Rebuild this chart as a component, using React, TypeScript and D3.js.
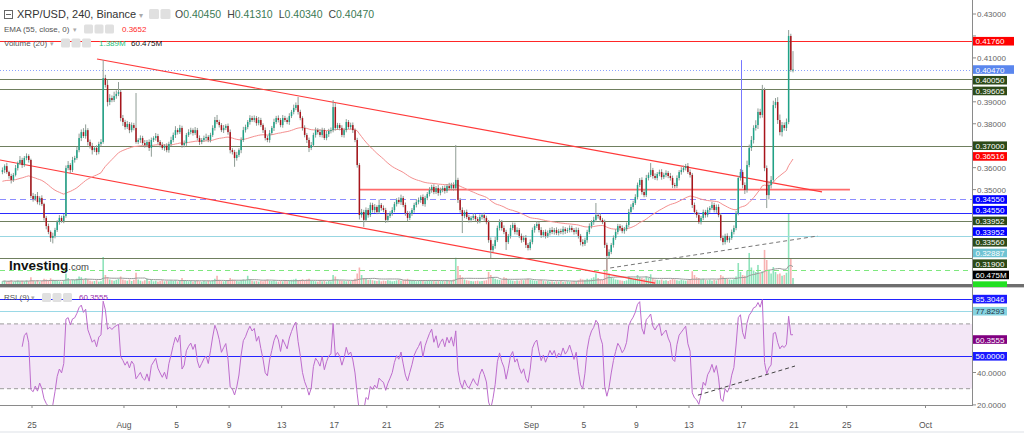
import React from 'react';
import * as d3 from 'd3';

// ---------------- DATA (prices in 1e-4 units) ----------------
const firstOpen = 3580;
const julyCloses = [
  3589, 3607, 3580, 3562, 3544, 3567, 3598, 3621, 3635, 3612, 3644, 3653, 3635,
  3471,
  3457, 3471, 3443, 3462, 3434, 3371,
  3334, 3307, 3280, 3289, 3316,
  3352, 3371, 3357, 3380,
  3598,
  3612, 3589, 3635, 3644, 3680,
  3735, 3762, 3744, 3771, 3717,
  3699, 3680, 3690, 3671, 3708, 3717,
  4008,
  3977, 3899, 3917, 3908,
  3926, 3936, 3945,
  3826, 3808,
];
const augCloses = [
  3785, 3799, 3771, 3794, 3781, 3717,
  3726, 3735, 3712, 3703, 3717, 3690, 3726, 3735,
  3744, 3717, 3703, 3690, 3699, 3680, 3708, 3726, 3749, 3771,
  3762, 3781, 3703, 3712, 3749, 3762,
  3771, 3758, 3771, 3735, 3717, 3726, 3735, 3740, 3726, 3749,
  3781, 3817, 3808, 3794,
  3771, 3781, 3790, 3762, 3680,
  3671, 3644, 3658, 3680, 3726,
  3771, 3785, 3808, 3826, 3817,
  3826, 3803, 3817, 3794, 3771,
  3735, 3726, 3758, 3781, 3808,
  3826, 3817, 3794, 3826, 3817,
  3808, 3835, 3854, 3872, 3885, 3854,
  3826, 3781, 3749, 3726, 3690,
  3703, 3749, 3771, 3762, 3749,
  3771, 3735, 3753, 3767, 3771,
  3876,
  3781, 3794, 3781, 3749, 3771,
  3808, 3785, 3794, 3771, 3726,
  3612, 3384,
  3398, 3362, 3407, 3384, 3430,
  3407, 3421, 3398, 3430, 3416, 3407,
  3362, 3380, 3393, 3407, 3434, 3453,
  3443, 3462, 3430, 3393, 3371,
  3389, 3407, 3430, 3443, 3453,
  3466, 3434, 3462, 3480, 3498,
  3512, 3489, 3507, 3485, 3498,
  3507, 3494, 3516, 3507, 3521, 3507,
  3544, 3453,
  3407, 3380, 3398, 3375, 3362, 3371,
  3380, 3366, 3357, 3375, 3384, 3371, 3352,
  3270,
  3225, 3243, 3270, 3325,
  3352, 3325, 3307, 3261, 3289,
  3325, 3339, 3307, 3316, 3289,
  3270, 3280, 3248, 3234, 3261,
];
const sepCloses = [
  3316, 3334, 3343, 3316, 3293,
  3307, 3289, 3302, 3316, 3307,
  3316, 3302, 3311, 3307, 3320,
  3311, 3316, 3325, 3316, 3307,
  3316, 3289, 3261, 3252, 3270,
  3307, 3334, 3352, 3362, 3384,
  3380, 3362, 3352, 3248, 3198,
  3216, 3248, 3280, 3307, 3334,
  3325, 3311, 3320, 3339, 3398,
  3421, 3439, 3466, 3521, 3544,
  3489, 3475, 3553, 3567, 3589,
  3562, 3553, 3571, 3580, 3557, 3567, 3576, 3562, 3553,
  3521, 3516, 3553, 3580, 3589, 3598, 3607, 3580, 3567,
  3430,
  3398, 3384, 3352, 3371, 3398,
  3384, 3407, 3416, 3430, 3407, 3421,
  3384, 3280, 3261, 3289,
  3270, 3280, 3307, 3325,
  3393, 3553, 3580, 3521, 3498, 3612, 3690, 3726, 3781, 3794, 3854, 3840, 3954,
  3598, 3475, 3521, 3544, 3885, 3899, 3817, 3762, 3794, 3781, 3808, 4200, 4045, 4047,
];

const julyUpperWick = [
  12, 8, 15, 6, 10, 9, 14, 7, 18, 10, 9, 12, 8, 6, 14, 9, 18, 8, 12, 6,
  9, 11, 7, 15, 10, 8, 13, 10, 9, 12, 18, 9, 14, 10, 16, 20, 12, 18, 26, 9,
  11, 14, 8, 12, 10, 13, 82, 15, 22, 18, 12, 20, 16, 45, 10, 14,
];
const julyLowerWick = [
  10, 14, 8, 12, 16, 9, 7, 11, 9, 13, 8, 10, 12, 10, 12, 8, 10, 14, 9, 12,
  15, 10, 18, 25, 11, 9, 12, 8, 10, 8, 10, 15, 9, 12, 8, 10, 14, 9, 12, 16,
  12, 20, 9, 14, 10, 11, 8, 12, 20, 14, 10, 9, 12, 10, 15, 18,
];
const augUpperWick = [
  10, 14, 9, 12, 10, 159, 8, 12, 10, 14, 9, 12, 11, 8, 14, 10, 9, 13, 8, 12,
  10, 15, 11, 18, 9, 14, 10, 12, 9, 13, 11, 8, 14, 10, 12, 9, 11, 15, 8, 10,
  12, 14, 23, 10, 9, 13, 8, 11, 12, 9, 10, 14, 8, 12, 15, 11, 9, 13, 10, 12,
  9, 14, 10, 8, 12, 11, 13, 9, 15, 10, 12, 9, 14, 10, 11, 13, 9, 15, 12, 37,
  10, 8, 12, 9, 11, 14, 10, 12, 9, 13, 11, 9, 14, 10, 12, 32, 18, 10, 9, 12,
  10, 13, 9, 11, 12, 8, 10, 9, 14, 10, 12, 9, 11, 10, 13, 8, 25, 9, 12, 10,
  11, 9, 13, 10, 8, 12, 15, 9, 11, 10, 12, 9, 10, 14, 11, 8, 12, 10, 9, 13,
  10, 12, 9, 14, 11, 10, 12, 9, 15, 10, 12, 159, 10, 9, 12, 8, 11, 10, 9, 12,
  10, 9, 12, 8, 11, 10, 9, 12, 10, 14, 11, 13, 9, 12, 10, 9, 14, 11, 10, 12,
  9, 11, 10, 13, 9, 12,
];
const augLowerWick = [
  12, 9, 14, 10, 11, 8, 10, 13, 9, 12, 10, 14, 40, 9, 12, 10, 11, 9, 13, 10,
  12, 9, 10, 14, 11, 9, 12, 10, 13, 9, 10, 12, 9, 11, 14, 10, 9, 12, 10, 11,
  9, 12, 10, 11, 9, 13, 10, 12, 15, 11, 40, 12, 10, 14, 9, 11, 10, 12, 9, 10,
  12, 10, 9, 13, 11, 10, 12, 9, 14, 10, 11, 10, 12, 9, 10, 13, 9, 11, 10, 12,
  10, 12, 11, 14, 19, 10, 9, 12, 11, 10, 12, 9, 10, 13, 11, 10, 12, 9, 11, 10,
  12, 10, 9, 11, 13, 10, 12, 20, 12, 32, 10, 12, 9, 11, 13, 10, 9, 12, 10, 14,
  11, 9, 12, 10, 11, 9, 13, 10, 12, 15, 10, 9, 12, 11, 10, 13, 9, 12, 10, 11,
  12, 10, 9, 13, 11, 10, 12, 9, 11, 10, 12, 10, 14, 12, 78, 10, 9, 12, 11, 10,
  9, 12, 10, 11, 13, 10, 12, 37, 10, 12, 9, 11, 12, 10, 36, 9, 12, 10, 11, 13,
  10, 12, 9, 14, 11, 10,
];
const sepUpperWick = [
  11, 9, 12, 10, 13, 9, 11, 12, 10, 14, 9, 12, 10, 11, 13, 9, 10, 12, 11, 9,
  12, 10, 9, 13, 11, 10, 12, 9, 14, 55, 10, 12, 9, 11, 10, 12, 9, 11, 13, 10,
  9, 12, 10, 11, 14, 12, 10, 13, 11, 9, 12, 10, 14, 11, 32, 10, 12, 9, 11, 13,
  10, 12, 9, 14, 11, 10, 12, 9, 13, 11, 10, 14, 12, 9, 11, 10, 12, 9, 11, 10,
  12, 9, 14, 10, 11, 12, 9, 11, 10, 12, 9, 11, 12, 10, 8, 14, 10, 12, 20, 15,
  18, 12, 22, 16, 14, 23, 10, 12, 15, 18, 20, 18, 22, 25, 14, 12, 16, 27, 10, 84,
];
const sepLowerWick = [
  10, 12, 9, 11, 13, 10, 12, 9, 11, 10, 12, 9, 11, 10, 12, 13, 9, 11, 10, 12,
  10, 12, 15, 11, 9, 12, 10, 11, 13, 10, 12, 10, 9, 14, 64, 11, 10, 12, 9, 11,
  13, 10, 12, 9, 11, 10, 12, 9, 11, 10, 12, 10, 9, 11, 10, 12, 9, 11, 10, 12,
  9, 11, 10, 12, 14, 10, 9, 11, 12, 10, 11, 9, 12, 14, 10, 12, 9, 11, 10, 12,
  10, 12, 9, 11, 13, 10, 12, 14, 11, 10, 12, 9, 11, 10, 10, 12, 15, 18, 12, 10,
  14, 16, 12, 18, 15, 12, 14, 59, 20, 16, 12, 14, 18, 15, 20, 12, 14, 10, 8, 11,
];

// volume in millions
const julyVolume = [
  18, 22, 15, 20, 25, 14, 19, 23, 17, 21, 16, 24, 18, 45, 22, 18, 26, 15, 20, 35,
  30, 25, 38, 28, 20, 22, 18, 16, 24, 70, 40, 25, 30, 28, 35, 50, 45, 30, 38, 32,
  22, 18, 20, 25, 16, 19, 180, 60, 45, 30, 25, 22, 28, 35, 50, 30,
];
const augVolume = [
  25, 22, 30, 20, 28, 75, 30, 22, 18, 25, 35, 20, 28, 18, 22, 16, 20, 25, 18, 22,
  19, 24, 20, 26, 18, 22, 40, 25, 20, 18, 22, 16, 20, 24, 18, 15, 20, 17, 22, 19,
  25, 35, 55, 28, 20, 18, 22, 25, 40, 30, 28, 22, 18, 25, 30, 26, 55, 30, 22, 18,
  20, 16, 22, 18, 25, 30, 22, 20, 24, 18, 16, 20, 18, 22, 19, 24, 28, 30, 35, 25,
  28, 32, 25, 30, 35, 22, 20, 18, 16, 20, 18, 22, 16, 20, 18, 60, 50, 30, 25, 22,
  20, 18, 22, 19, 25, 35, 70, 110, 60, 40, 35, 28, 30, 25, 22, 20, 24, 18, 22, 20,
  25, 22, 18, 20, 24, 28, 22, 25, 30, 35, 28, 22, 20, 18, 22, 25, 20, 18, 24, 26,
  22, 20, 18, 22, 19, 20, 18, 22, 20, 24, 30, 175, 120, 60, 45, 30, 25, 22, 20, 18,
  20, 22, 18, 20, 22, 25, 80, 60, 40, 35, 30, 28, 25, 45, 40, 30, 25, 22, 20, 24,
  22, 28, 25, 30, 35, 28,
];
const sepVolume = [
  25, 22, 20, 24, 28, 22, 18, 20, 16, 18, 15, 18, 16, 20, 14, 16, 18, 15, 17, 20,
  18, 25, 35, 30, 28, 35, 30, 38, 45, 70, 40, 30, 28, 95, 170, 70, 45, 38, 30, 28,
  25, 22, 20, 24, 50, 40, 35, 38, 60, 45, 40, 35, 50, 42, 65, 40, 30, 28, 25, 30,
  22, 25, 20, 28, 35, 30, 25, 22, 28, 24, 22, 25, 30, 85, 60, 45, 40, 30, 35, 28,
  25, 30, 22, 28, 24, 35, 60, 50, 40, 35, 30, 28, 32, 50, 140, 80, 60, 55, 90, 207,
  110, 90, 80, 127, 70, 85, 227, 160, 90, 70, 113, 80, 65, 70, 55, 60, 75, 473, 173, 40,
];

const emaSeed = 0.3536;
const xTickDates = ['2022-07-25', '2022-08-01', '2022-08-05', '2022-08-09', '2022-08-13', '2022-08-17', '2022-08-21', '2022-08-25',
  '2022-09-01', '2022-09-05', '2022-09-09', '2022-09-13', '2022-09-17', '2022-09-21', '2022-09-25', '2022-10-01'];
const xTickLabels = ['25', 'Aug', '5', '9', '13', '17', '21', '25', 'Sep', '5', '9', '13', '17', '21', '25', 'Oct'];
const priceTicks = [0.43, 0.42, 0.41, 0.40, 0.39, 0.38, 0.37, 0.36, 0.35, 0.34, 0.33, 0.32];
const levelPrices = [0.4176, 0.4047, 0.4005, 0.39605, 0.37, 0.3455, 0.3455, 0.33952, 0.33952, 0.3356, 0.32887, 0.319, 0.3134];
const emaLabelValue = 0.36516;
const volumeLabelValue = 60.475;
const rsiLevels = [85.3046, 77.8293, 50];
const rsiValueLabel = 60.3555;
const rsiBand = [70, 30];
const rsiTicks = [40, 20];

const trendUpper = [{ t: '2022-07-29T22:45:00Z', p: 0.4095 }, { t: '2022-09-23T03:00:00Z', p: 0.3490 }];
const trendLower = [{ t: '2022-07-22T13:30:00Z', p: 0.3635 }, { t: '2022-09-10T10:00:00Z', p: 0.3074 }];
const hLine350 = [{ t: '2022-08-18T23:00:00Z', p: 0.3500 }, { t: '2022-09-25T06:00:00Z', p: 0.3500 }];
const supportDashed = [{ t: '2022-09-07T00:00:00Z', p: 0.3143 }, { t: '2022-09-22T19:40:00Z', p: 0.3289 }];
const rsiDashed = [{ t: '2022-09-13T16:20:00Z', v: 26 }, { t: '2022-09-21T01:40:00Z', v: 44 }];
const vLine = [{ t: '2022-09-16T23:00:00Z', p: 0.4090 }, { t: '2022-09-16T23:00:00Z', p: 0.3555 }];

const headerTitle = 'XRP/USD, 240, Binance';
const ohlc = [['O', '0.40450'], ['H', '0.41310'], ['L', '0.40340'], ['C', '0.40470']];
const emaHeader = 'EMA (55, close, 0)';
const emaHeaderValue = '0.3652';
const volHeader = 'Volume (20)';
const volHeaderValues = ['1.389M', '60.475M'];
const rsiHeader = 'RSI (9)';

// ---------------- STYLES ----------------
const FONT = '"Liberation Sans", Arial, sans-serif';
const GREEN_LVL = '#6f7f5f';
const GREEN_BG = '#2c4a18';
const levelStyles = [
  { stroke: '#ff2626', dash: '', bg: '#ff0000', fg: '#fff', w: 41 },
  { stroke: '#8aa2ff', dash: '1,2', bg: '#5a86ee', fg: '#fff', w: 41 },
  { stroke: GREEN_LVL, dash: '', bg: GREEN_BG, fg: '#fff', w: 34 },
  { stroke: GREEN_LVL, dash: '', bg: GREEN_BG, fg: '#fff', w: 34 },
  { stroke: GREEN_LVL, dash: '', bg: GREEN_BG, fg: '#fff', w: 34 },
  { stroke: '#8c8cff', dash: '6,4', bg: '#0000ff', fg: '#fff', w: 34 },
  { stroke: null, dash: '', bg: '#0000ff', fg: '#fff', w: 34 },
  { stroke: GREEN_LVL, dash: '', bg: GREEN_BG, fg: '#fff', w: 34 },
  { stroke: '#2a2aff', dash: '', bg: '#0000ff', fg: '#fff', w: 34 },
  { stroke: GREEN_LVL, dash: '', bg: GREEN_BG, fg: '#fff', w: 34 },
  { stroke: '#98d6e2', dash: '', bg: '#6fc3d3', fg: '#fff', w: 34 },
  { stroke: GREEN_LVL, dash: '', bg: GREEN_BG, fg: '#fff', w: 34 },
  { stroke: '#7ee87e', dash: '5,4', bg: '#22e022', fg: '#fff', w: 34 },
];
const rsiStyles = [
  { stroke: '#2323ff', bg: '#1a1aff', fg: '#fff' },
  { stroke: '#9ad9e6', bg: '#86d3e0', fg: '#234' },
  { stroke: '#2323ff', bg: '#1a1aff', fg: '#fff' },
];

export default function App() {
  const closes = [...julyCloses, ...augCloses, ...sepCloses].map((v) => v / 1e4);
  const upW = [...julyUpperWick, ...augUpperWick, ...sepUpperWick].map((v) => v / 1e4);
  const loW = [...julyLowerWick, ...augLowerWick, ...sepLowerWick].map((v) => v / 1e4);
  const vols = [...julyVolume, ...augVolume, ...sepVolume];
  const t0 = Date.UTC(2022, 6, 22, 18);
  const H4 = 4 * 3600 * 1000;
  const candles = closes.map((c, i) => {
    const o = i === 0 ? firstOpen / 1e4 : closes[i - 1];
    return { t: new Date(t0 + i * H4), o, c, h: Math.max(o, c) + (upW[i] || 0), l: Math.min(o, c) - (loW[i] || 0), v: vols[i] || 0 };
  });

  const PW = 972;
  const x = d3.scaleUtc().domain([new Date(Date.UTC(2022, 6, 25)), new Date(Date.UTC(2022, 9, 1))]).range([32, 925.5]);
  const y = d3.scaleLinear().domain([0.307, 0.43638]).range([284, 0]);
  const yV = d3.scaleLinear().domain([0, 1000]).range([284, 134]);
  const yR = d3.scaleLinear().domain([20, 50]).range([404.9, 356.3]);

  // EMA 55
  const k = 2 / 56;
  let e = emaSeed;
  const ema = candles.map((d) => (e = e + k * (d.c - e)));
  // Volume MA 20
  const vma = candles.map((_, i) => {
    const s = vols.slice(Math.max(0, i - 19), i + 1);
    return d3.mean(s) as number;
  });
  // RSI 9 (Wilder)
  const rsi: (number | null)[] = [null];
  let ag = 0, al = 0;
  for (let i = 1; i < candles.length; i++) {
    const ch = candles[i].c - candles[i - 1].c;
    const g = Math.max(ch, 0), l = Math.max(-ch, 0);
    if (i <= 9) {
      ag += g / 9; al += l / 9;
      rsi.push(i === 9 ? 100 - 100 / (1 + ag / (al || 1e-9)) : null);
    } else {
      ag = (ag * 8 + g) / 9; al = (al * 8 + l) / 9;
      rsi.push(100 - 100 / (1 + ag / (al || 1e-9)));
    }
  }

  const emaLine = d3.line<number>().x((_, i) => x(candles[i].t)).y((d) => y(d));
  const vmaLine = d3.line<number>().x((_, i) => x(candles[i].t)).y((d) => yV(d));
  const rsiPts = rsi.map((v, i) => ({ v, t: candles[i].t })).filter((d) => d.v !== null) as { v: number; t: Date }[];
  const rsiLine = d3.line<{ v: number; t: Date }>().x((d) => x(d.t)).y((d) => yR(d.v));

  const fmt5 = d3.format('.5f');
  const fmt4 = d3.format('.4f');

  // right-axis labels, stacked top-down in this order
  type Lab = { y0: number; text: string; bg: string; fg: string; w: number; yy: number };
  const labs: Lab[] = [];
  levelPrices.forEach((p, i) => {
    if (i === levelPrices.length - 1) {
      labs.push({ y0: yV(volumeLabelValue), text: d3.format('.3f')(volumeLabelValue) + 'M', bg: '#000', fg: '#fff', w: 36, yy: 0 });
    }
    labs.push({ y0: y(p), text: fmt5(p), bg: levelStyles[i].bg, fg: levelStyles[i].fg, w: levelStyles[i].w, yy: 0 });
    if (p === 0.37) {
      labs.push({ y0: y(emaLabelValue), text: fmt5(emaLabelValue), bg: '#ff0000', fg: '#fff', w: 34, yy: 0 });
    }
  });
  let last = -100;
  const GAP = 10.7;
  labs.forEach((l) => {
    l.yy = Math.max(l.y0, last + GAP);
    last = l.yy;
  });
  const visibleTicks = priceTicks.filter((p) => labs.every((l) => Math.abs(l.yy - y(p)) > 8.5));

  const bw = 1.5;
  const iconRow = (x0: number, yTop: number, n: number, s: number) =>
    d3.range(n).map((j) => (
      <rect key={j} x={x0 + j * (s + 1.5)} y={yTop} width={s} height={s} rx={1.5} fill="#e0e0e0" />
    ));

  return (
    <div style={{ position: 'absolute', left: 0, top: 0 }}>
      <svg width={1024} height={433} style={{ display: 'block', background: '#fff', fontFamily: FONT }}>
        <defs>
          <clipPath id="mainClip"><rect x={0} y={0} width={PW} height={284} /></clipPath>
          <clipPath id="rsiClip"><rect x={0} y={289} width={PW} height={116} /></clipPath>
          <clipPath id="labClip"><rect x={960} y={0} width={64} height={287} /></clipPath>
        </defs>

        {/* ---------- MAIN PANEL ---------- */}
        <g clipPath="url(#mainClip)">
          {candles.map((d, i) => (
            <rect key={'v' + i} x={x(d.t) - 0.8} y={yV(d.v)} width={1.6} height={284 - yV(d.v)}
              fill={d.c >= d.o ? '#8fe3bb' : '#f7b2b2'} />
          ))}
          <path d={vmaLine(vma) || ''} fill="none" stroke="#9a9a9a" strokeWidth={1} />

          {levelPrices.map((p, i) => levelStyles[i].stroke ? (
            <line key={'lv' + i} x1={0} x2={PW} y1={Math.round(y(p)) + 0.5} y2={Math.round(y(p)) + 0.5}
              stroke={levelStyles[i].stroke as string} strokeWidth={1} strokeDasharray={levelStyles[i].dash || undefined} />
          ) : null)}

          {[trendUpper, trendLower, hLine350].map((tl, j) => (
            <line key={'tl' + j} x1={x(new Date(tl[0].t))} y1={y(tl[0].p)} x2={x(new Date(tl[1].t))} y2={y(tl[1].p)}
              stroke="#ff3a3a" strokeWidth={j === 2 ? 1.6 : 1.2} strokeOpacity={j === 2 ? 0.75 : 1} />
          ))}
          <line x1={x(new Date(supportDashed[0].t))} y1={y(supportDashed[0].p)} x2={x(new Date(supportDashed[1].t))} y2={y(supportDashed[1].p)}
            stroke="#777" strokeWidth={1} strokeDasharray="4,3" />

          <path d={emaLine(ema) || ''} fill="none" stroke="#f48f8f" strokeWidth={1} />

          {candles.map((d, i) => {
            const cx = x(d.t);
            const up = d.c >= d.o;
            const top = y(Math.max(d.o, d.c));
            const bot = y(Math.min(d.o, d.c));
            return (
              <g key={'c' + i}>
                <line x1={cx} x2={cx} y1={y(d.h)} y2={y(d.l)} stroke="#8f9c95" strokeWidth={1} />
                <rect x={cx - bw / 2} y={top} width={bw} height={Math.max(1, bot - top)} fill={up ? '#1fa287' : '#a8141b'} />
              </g>
            );
          })}

          <line x1={Math.round(x(new Date(vLine[0].t))) + 0.5} x2={Math.round(x(new Date(vLine[1].t))) + 0.5}
            y1={y(vLine[0].p)} y2={y(vLine[1].p)} stroke="#7777ff" strokeWidth={1} />
        </g>

        <text x={9} y={270} fontSize={13.5} fontWeight="bold" fill="#111">Investing<tspan fontSize={9.5} fontWeight="normal" fill="#444">.com</tspan></text>

        {/* header */}
        <rect x={4.5} y={10.5} width={8} height={8} fill="none" stroke="#666" strokeWidth={1} />
        <line x1={6} x2={11} y1={14.5} y2={14.5} stroke="#666" />
        <text x={17} y={18.3} fontSize={11} fill="#333">{headerTitle}</text>
        <text x={139} y={18} fontSize={8} fill="#aaa">▾</text>
        {iconRow(149, 9, 2, 10)}
        <text x={175} y={18.3} fontSize={10.5}>
          {ohlc.map(([k2, v], j) => (
            <tspan key={j}>
              <tspan fill="#444" dx={j ? 6 : 0}>{k2}</tspan>
              <tspan fill="#3b7a55">{v}</tspan>
            </tspan>
          ))}
        </text>
        <text x={4} y={31.5} fontSize={8} fill="#555">{emaHeader}</text>
        <text x={73} y={31.5} fontSize={7} fill="#aaa">▾</text>
        {iconRow(84, 24.5, 3, 9)}
        <text x={122} y={31.5} fontSize={8} fill="#ff2a2a">{emaHeaderValue}</text>
        <text x={4} y={45.5} fontSize={8} fill="#555">{volHeader}</text>
        <text x={50} y={45.5} fontSize={7} fill="#aaa">▾</text>
        {iconRow(61, 38.5, 3, 9)}
        <text x={99} y={45.5} fontSize={8} fill="#26c07a">{volHeaderValues[0]}</text>
        <text x={131} y={45.5} fontSize={8} fill="#111">{volHeaderValues[1]}</text>

        {/* separator */}
        <rect x={0} y={284} width={1024} height={3} fill="#6e6e6e" />
        <rect x={0} y={287} width={1024} height={1} fill="#c8c8c8" />

        {/* ---------- RSI PANEL ---------- */}
        <g clipPath="url(#rsiClip)">
          <rect x={0} y={yR(rsiBand[0])} width={PW} height={yR(rsiBand[1]) - yR(rsiBand[0])} fill="#f3e7f6" />
          {rsiBand.map((v, j) => (
            <line key={'rb' + j} x1={0} x2={PW} y1={yR(v)} y2={yR(v)} stroke="#9c9c9c" strokeDasharray="4,3" />
          ))}
          {rsiLevels.map((v, j) => (
            <line key={'rl' + j} x1={0} x2={PW} y1={Math.round(yR(v)) + 0.5} y2={Math.round(yR(v)) + 0.5} stroke={rsiStyles[j].stroke} strokeWidth={1} />
          ))}
          <path d={rsiLine(rsiPts) || ''} fill="none" stroke="#bd6ccd" strokeWidth={1} />
          <line x1={x(new Date(rsiDashed[0].t))} y1={yR(rsiDashed[0].v)} x2={x(new Date(rsiDashed[1].t))} y2={yR(rsiDashed[1].v)}
            stroke="#444" strokeWidth={1} strokeDasharray="4,3" />
        </g>
        <text x={4} y={300} fontSize={8} fill="#555">{rsiHeader}</text>
        <text x={31} y={300} fontSize={7} fill="#aaa">▾</text>
        {iconRow(42, 293, 3, 9)}
        <text x={79} y={300} fontSize={8} fill="#9a2aa8">{fmt4(rsiValueLabel)}</text>

        {/* ---------- RIGHT AXIS ---------- */}
        <line x1={PW + 0.5} x2={PW + 0.5} y1={0} y2={405} stroke="#8a8a8a" />
        {priceTicks.map((p) => (
          <line key={'ptm' + p} x1={PW} x2={PW + 4} y1={y(p)} y2={y(p)} stroke="#8a8a8a" />
        ))}
        {visibleTicks.map((p) => (
          <text key={'pt' + p} x={977} y={y(p) + 3} fontSize={8} fill="#666">{fmt5(p)}</text>
        ))}
        <g clipPath="url(#labClip)">
          {labs.map((l, j) => (
            <g key={'lb' + j}>
              <rect x={973} y={l.yy - 4.3} width={l.w} height={8.6} fill={l.bg} />
              {l.yy < 282 ? <text x={975.5} y={l.yy + 3} fontSize={8} fill={l.fg}>{l.text}</text> : null}
            </g>
          ))}
        </g>
        {rsiTicks.map((v) => (
          <g key={'rt' + v}>
            <line x1={PW} x2={PW + 4} y1={yR(v)} y2={yR(v)} stroke="#8a8a8a" />
            <text x={977} y={yR(v) + 3} fontSize={8} fill="#666">{fmt4(v)}</text>
          </g>
        ))}
        {rsiLevels.map((v, j) => (
          <g key={'rlab' + j}>
            <rect x={973} y={yR(v) - 4.3} width={34} height={8.6} fill={rsiStyles[j].bg} />
            <text x={975.5} y={yR(v) + 3} fontSize={8} fill={rsiStyles[j].fg}>{fmt4(v)}</text>
          </g>
        ))}
        <rect x={973} y={yR(rsiValueLabel) - 4.3} width={34} height={8.6} fill="#800080" />
        <text x={975.5} y={yR(rsiValueLabel) + 3} fontSize={8} fill="#fff">{fmt4(rsiValueLabel)}</text>

        {/* ---------- TIME AXIS ---------- */}
        <line x1={0} x2={PW + 1} y1={405.5} y2={405.5} stroke="#8a8a8a" />
        {xTickDates.map((ds, j) => {
          const xx = x(new Date(ds + 'T00:00:00Z'));
          return (
            <g key={'xt' + j}>
              <line x1={xx} x2={xx} y1={405} y2={408} stroke="#8a8a8a" />
              <text x={xx} y={428} fontSize={8.5} textAnchor="middle" fill="#555">{xTickLabels[j]}</text>
            </g>
          );
        })}
        <rect x={0} y={431} width={1024} height={2} fill="#eef0f3" />
      </svg>
    </div>
  );
}
